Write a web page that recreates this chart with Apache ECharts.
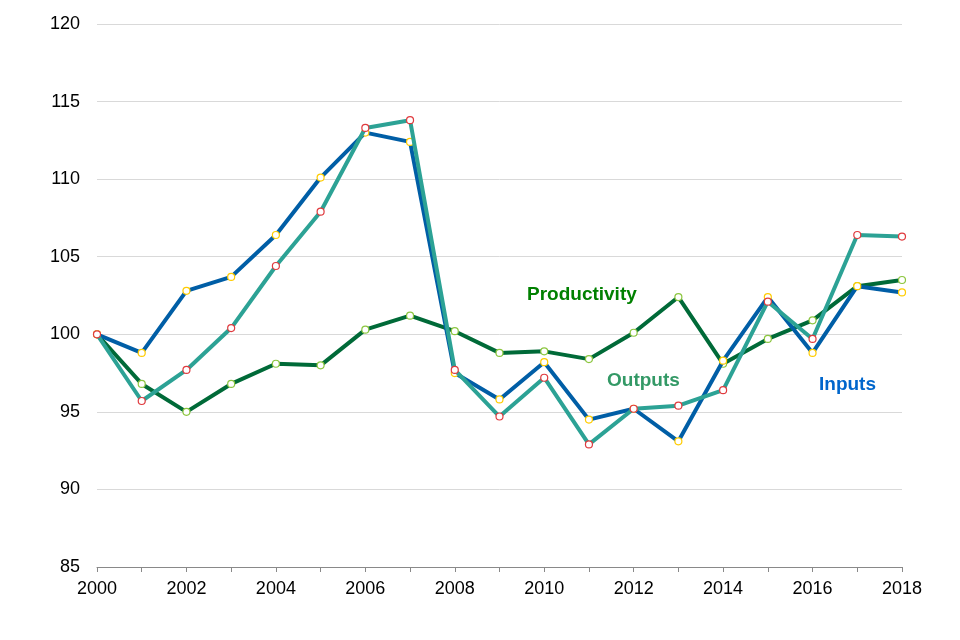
<!DOCTYPE html>
<html>
<head>
<meta charset="utf-8">
<script src="https://cdn.jsdelivr.net/npm/echarts@6/dist/echarts.min.js"></script>
<style>
html,body{margin:0;padding:0;background:#fff;}
#chart{width:960px;height:640px;}
</style>
</head>
<body>
<div id="chart"></div>
<script>
var years = ['2000','2001','2002','2003','2004','2005','2006','2007','2008','2009','2010','2011','2012','2013','2014','2015','2016','2017','2018'];
var inputs = [100, 98.8, 102.8, 103.7, 106.4, 110.1, 113.0, 112.4, 97.5, 95.8, 98.2, 94.5, 95.2, 93.1, 98.3, 102.4, 98.8, 103.1, 102.7];
var outputs = [100, 95.7, 97.7, 100.4, 104.4, 107.9, 113.3, 113.8, 97.7, 94.7, 97.2, 92.9, 95.2, 95.4, 96.4, 102.1, 99.7, 106.4, 106.3];
var productivity = [100, 96.8, 95.0, 96.8, 98.1, 98.0, 100.3, 101.2, 100.2, 98.8, 98.9, 98.4, 100.1, 102.4, 98.1, 99.7, 100.9, 103.1, 103.5];
var yTicks = {min: 85, max: 120, interval: 5};

var chart = echarts.init(document.getElementById('chart'));
function lineSeries(name, data, color, markerColor, z) {
  return {
    name: name, type: 'line', data: data, z: z,
    symbol: 'circle', symbolSize: 7, showAllSymbol: true,
    lineStyle: {color: color, width: 4},
    itemStyle: {color: '#ffffff', borderColor: markerColor, borderWidth: 1.2},
    emphasis: {disabled: true},
    animation: false
  };
}
var labelFont = 'bold 19px "Liberation Sans", Arial';
chart.setOption({
  backgroundColor: '#ffffff',
  animation: false,
  grid: {left: 97, right: 58, top: 24, bottom: 73},
  xAxis: {
    type: 'category', data: years, boundaryGap: false,
    axisLine: {lineStyle: {color: '#898989', width: 1}},
    axisTick: {show: true, length: 5, interval: 0, lineStyle: {color: '#898989'}},
    axisLabel: {interval: 1, color: '#000', fontSize: 18, fontFamily: 'Liberation Sans, Arial', margin: 13},
    splitLine: {show: false}
  },
  yAxis: {
    type: 'value', min: yTicks.min, max: yTicks.max, interval: yTicks.interval,
    axisLine: {show: false}, axisTick: {show: false},
    axisLabel: {color: '#000', fontSize: 18, fontFamily: 'Liberation Sans, Arial', margin: 17},
    splitLine: {lineStyle: {color: '#d9d9d9', width: 1}}
  },
  series: [
    lineSeries('Productivity', productivity, '#006a38', '#8cc63f', 2),
    lineSeries('Inputs', inputs, '#005ea6', '#ffcc00', 3),
    lineSeries('Outputs', outputs, '#2ca295', '#e03a3e', 4)
  ],
  graphic: [
    {type: 'text', x: 527, y: 295, style: {text: 'Productivity', fill: '#008000', font: labelFont, verticalAlign: 'middle'}},
    {type: 'text', x: 607, y: 381, style: {text: 'Outputs', fill: '#339966', font: labelFont, verticalAlign: 'middle'}},
    {type: 'text', x: 819, y: 385, style: {text: 'Inputs', fill: '#0066cc', font: labelFont, verticalAlign: 'middle'}}
  ]
});
</script>
</body>
</html>
